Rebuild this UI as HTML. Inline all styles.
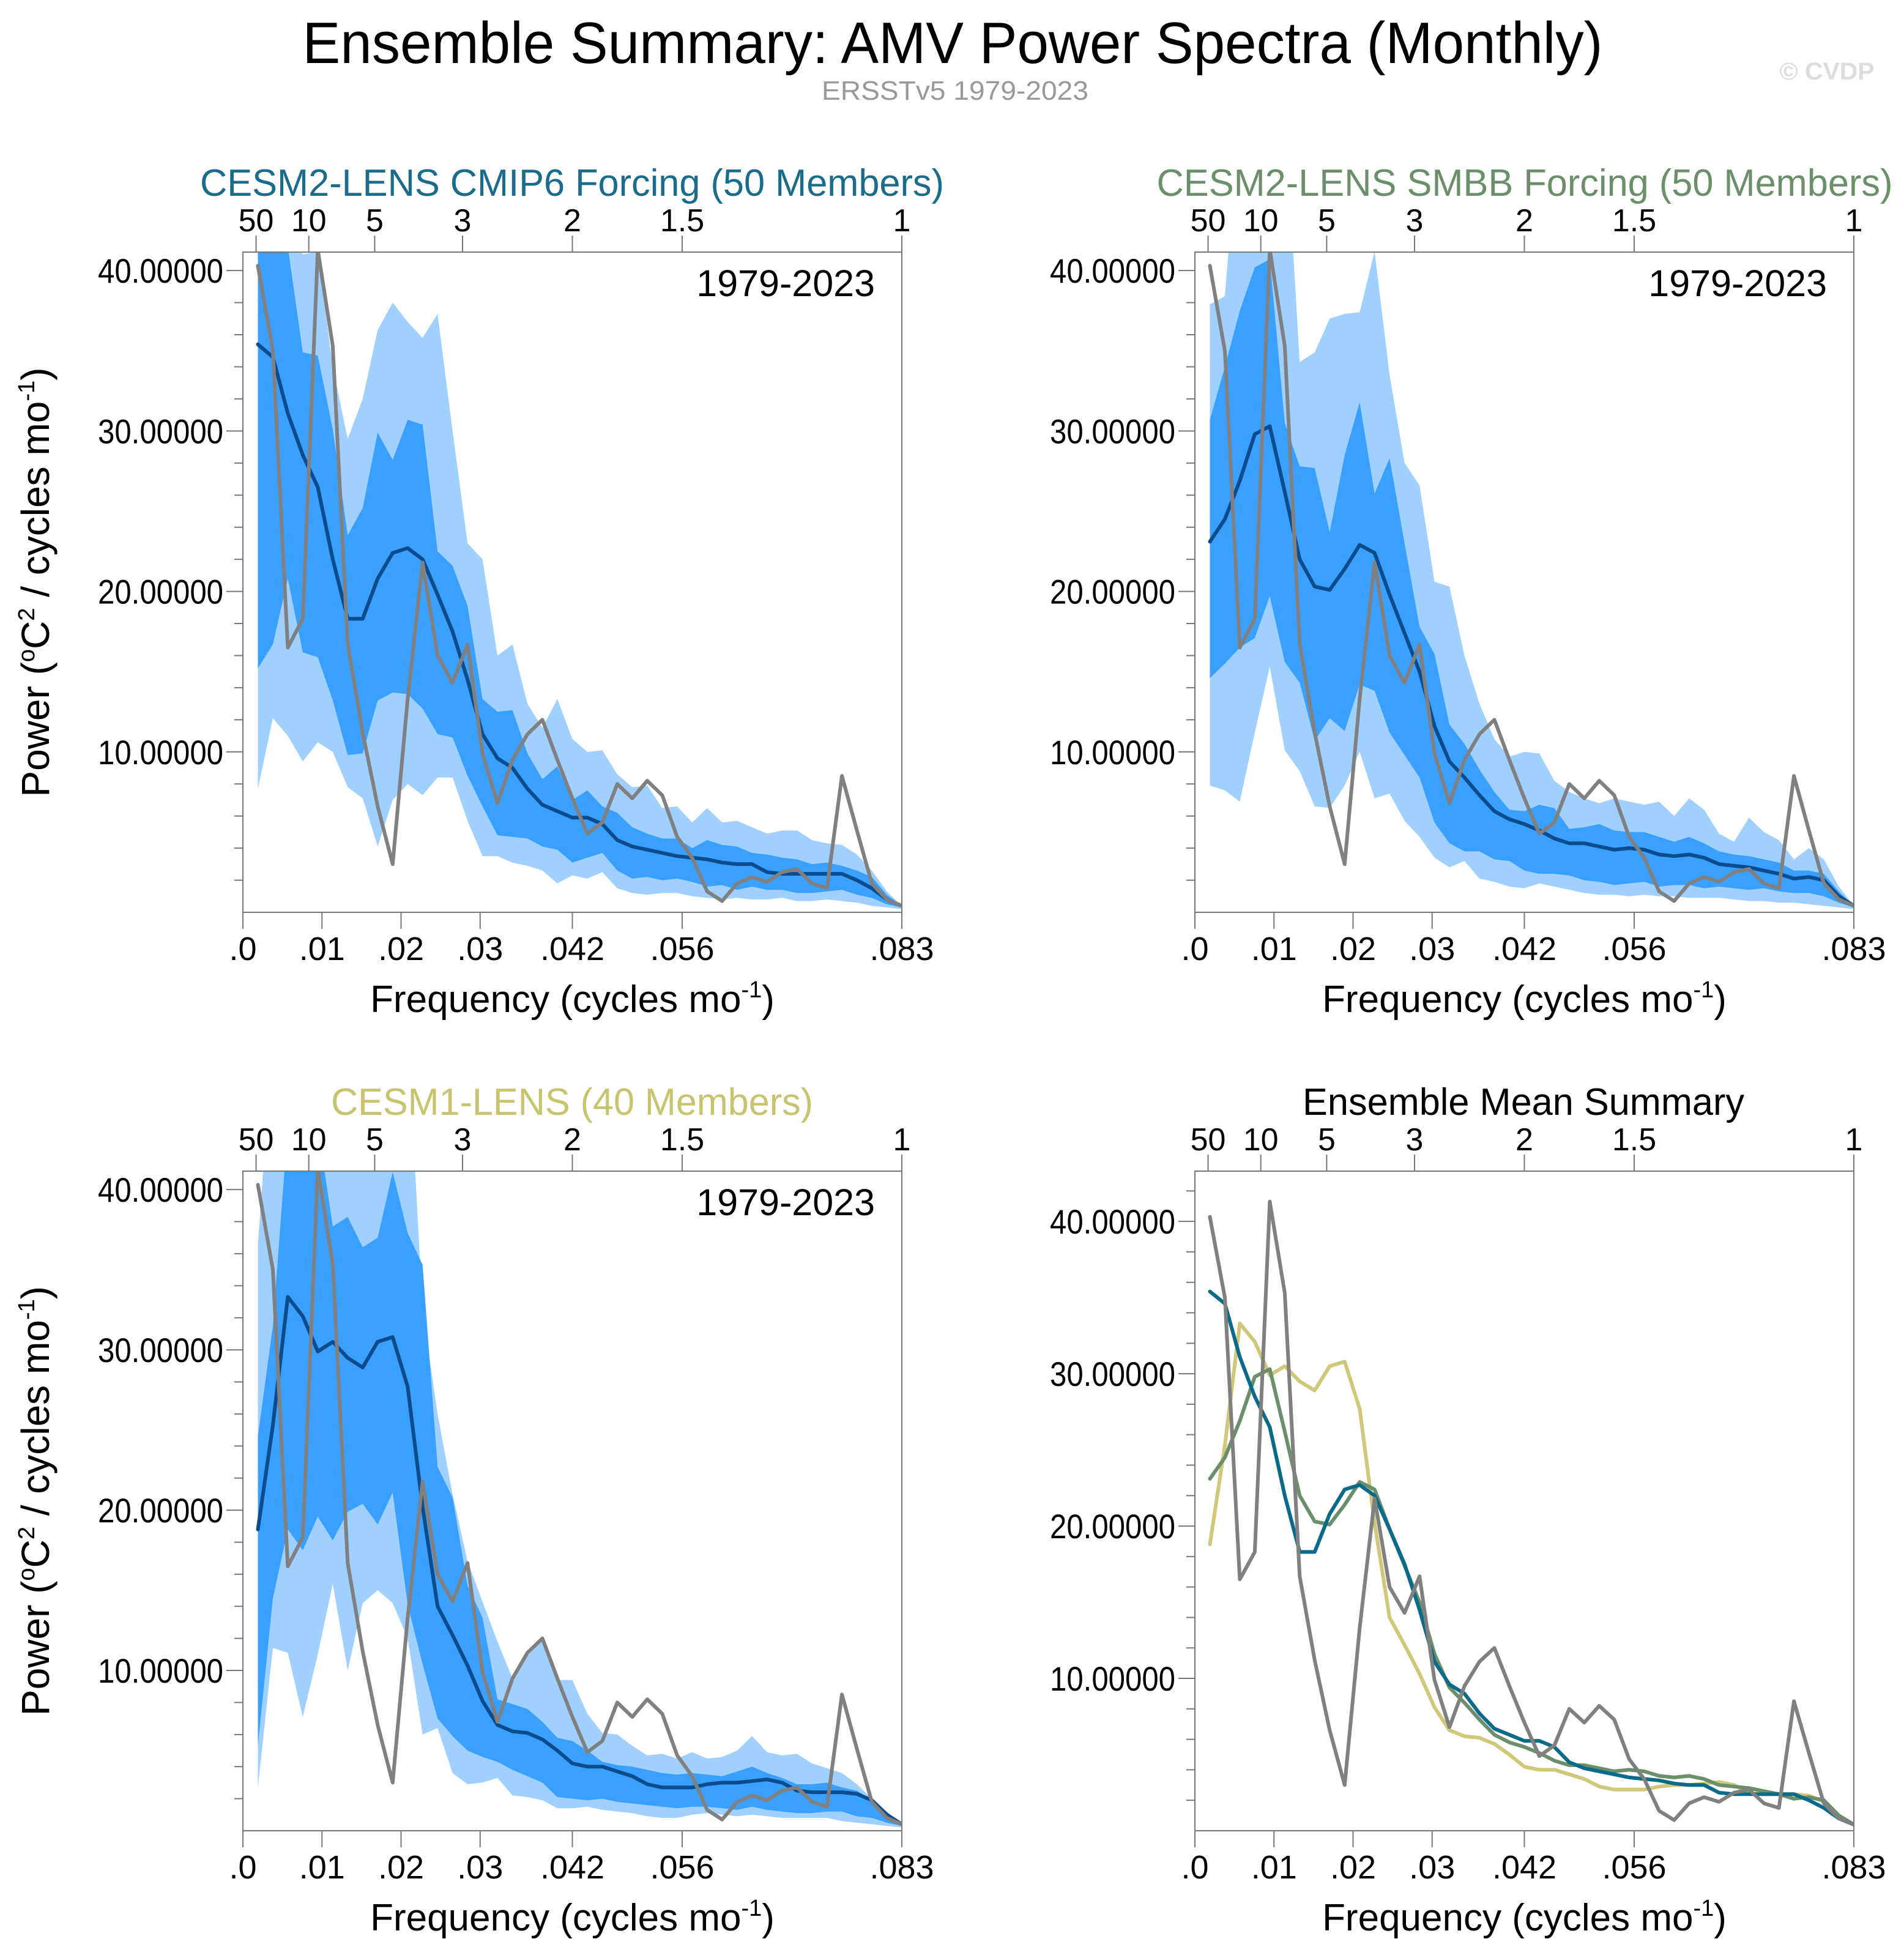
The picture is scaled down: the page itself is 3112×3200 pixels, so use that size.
<!DOCTYPE html>
<html><head><meta charset="utf-8"><title>AMV Power Spectra</title>
<style>
html,body{margin:0;padding:0;background:#fff;}
svg{display:block;font-family:"Liberation Sans",Arial,sans-serif;}
</style></head>
<body>
<svg id="chart" width="3112" height="3200" viewBox="0 0 3112 3200" xmlns="http://www.w3.org/2000/svg">
<rect x="0" y="0" width="3112" height="3200" fill="#fff"/>
<text x="1557" y="103" font-size="96" text-anchor="middle" textLength="2125" lengthAdjust="spacingAndGlyphs" fill="#000">Ensemble Summary: AMV Power Spectra (Monthly)</text>
<text x="1561" y="163" font-size="44" text-anchor="middle" textLength="436" lengthAdjust="spacingAndGlyphs" fill="#999">ERSSTv5 1979-2023</text>
<text x="2986" y="130" font-size="40" font-weight="bold" text-anchor="middle" textLength="155" lengthAdjust="spacingAndGlyphs" fill="#ddd">© CVDP</text>
</svg>
<script>
// ---------------- data ----------------
const obs = [40.3,35,16.5,18.3,41.3,35.3,16.7,11.2,6.6,3.0,13.3,21.8,16,14.3,16.7,9.9,6.8,9.5,11.1,12.0,9.5,7.1,4.9,5.6,8.0,7.1,8.2,7.3,4.7,3.4,1.3,0.7,1.8,2.2,1.9,2.5,2.7,1.8,1.5,8.5,5.1,1.8,0.8,0.4];

const cmip6Mean = [35.4,34.6,31.1,28.5,26.5,22.0,18.3,18.3,20.8,22.4,22.7,22.0,19.8,17.5,14.5,11.1,9.6,9.0,7.7,6.7,6.3,5.9,5.9,5.5,4.5,4.1,3.9,3.7,3.5,3.4,3.3,3.1,3.0,3.0,2.5,2.4,2.4,2.4,2.4,2.4,2.0,1.5,0.8,0.4];
const cmip6LightHi = [50,50,44,41,41.2,34,29.5,32,36.3,38,36.8,35.8,37.3,30,23,22,16,16.7,13,11.5,13.3,10.8,10,10.1,8.6,7.8,7.9,6.5,6.6,5.6,6.5,5.6,5.7,5.3,4.9,5.1,5.1,4.5,4.3,4.2,3.6,2.6,1.3,0.4];
const cmip6DarkHi = [44,44,41.5,34.9,34.7,30.1,23.5,25.2,29.9,28.2,30.7,30.4,22.5,21.6,19.1,13.3,12.5,12.6,9.9,8.3,9.1,7.0,7.6,6.6,6.2,5.3,4.9,4.6,4.6,4.0,4.5,4.2,4.1,3.7,3.6,3.4,3.3,3.0,3.1,2.9,2.6,2.2,1.1,0.4];
const cmip6DarkLo = [15.2,16.7,20.8,16.2,15.9,13.2,9.8,9.9,13.2,13.7,13.6,12.7,11.1,10.9,8.5,6.6,4.8,4.7,4.6,4.1,3.9,3.1,3.4,3.7,2.6,2.1,2.2,2.0,2.1,1.9,1.6,1.7,1.4,1.6,1.4,1.4,1.2,1.2,1.3,1.4,1.1,0.9,0.5,0.3];
const cmip6LightLo = [7.7,12.1,11.0,9.4,10.6,10.0,7.8,7.1,4.1,7.0,8.0,7.3,8.4,8.4,5.7,3.5,3.5,3.1,2.9,2.6,1.8,2.3,2.1,2.5,1.5,1.2,1.1,1.2,1.2,1.0,0.9,0.8,0.9,0.8,0.8,0.9,0.7,0.7,0.8,0.7,0.6,0.4,0.3,0.2];

const smbbMean = [23.1,24.5,26.9,29.8,30.3,26.2,22.0,20.3,20.1,21.4,22.9,22.4,19.8,17.4,15.0,11.6,9.4,8.4,7.3,6.3,5.8,5.5,5.1,4.6,4.3,4.3,4.1,3.9,4.0,3.9,3.6,3.5,3.6,3.4,3.0,2.9,2.8,2.6,2.4,2.1,2.2,2.0,1.0,0.4];
const smbbLightHi = [37.9,38.4,50,50,50,50,34.3,34.9,37,37.3,37.4,41.2,33.5,28,26.6,20.6,20.3,16,13,10.8,9.7,10,9.9,8.2,7.5,7.1,6.8,7.1,6.9,6.7,6.9,6.0,7.1,6.4,4.9,4.4,5.9,5.0,4.5,3.3,4.0,3.3,1.6,0.4];
const smbbDarkHi = [30.7,34,37.5,40.2,40.7,30.5,27.8,27.7,23.7,28.5,31.8,26.1,28.3,23,17.8,16.1,11.7,10.5,8.9,7.5,6.4,6.3,6.7,6.5,5.2,5.3,5.5,5.1,5.0,5.0,4.7,4.4,4.7,4.3,3.8,3.6,3.5,3.3,3.1,2.6,2.6,2.4,1.3,0.4];
const smbbDarkLo = [14.6,15.5,16.5,17.1,19.7,15.6,14.3,10.7,12.1,11.3,14.2,13.8,11.2,9.8,8.4,5.6,4.3,3.8,3.8,3.3,3.2,2.6,2.4,2.4,2.3,2.0,1.9,1.7,1.8,1.9,1.6,1.7,1.7,1.5,1.6,1.5,1.4,1.5,1.3,1.2,1.2,1.0,0.6,0.3];
const smbbLightLo = [7.9,7.6,6.9,11.2,15.3,10.1,8.8,6.6,6.5,7.9,10.0,7.1,7.4,5.7,4.7,3.4,2.8,3.2,2.1,1.9,1.6,1.5,1.8,1.6,1.4,1.2,1.1,1.1,1.0,1.1,1.0,1.0,0.9,0.9,0.9,0.8,0.7,0.7,0.6,0.6,0.5,0.4,0.3,0.2];

const cesm1Mean = [18.8,25.3,33.3,32.1,29.9,30.5,29.5,28.9,30.5,30.8,27.7,20.2,14.0,12.2,10.3,8.1,6.6,6.2,6.1,5.7,5.0,4.2,4.0,4.0,3.7,3.4,2.9,2.7,2.7,2.7,2.9,3.0,3.0,3.1,3.2,3.0,2.5,2.4,2.4,2.4,2.3,1.9,1.0,0.4];
const cesm1LightHi = [36.5,50,50,50,50,50,50,50,50,50,50,32.5,26,21,16.8,14.3,11.8,9.5,10.9,11.9,9.4,9.4,7.3,6.1,6.0,5.3,4.7,4.8,4.5,4.9,4.5,4.6,5.0,5.9,4.9,4.7,4.8,4.2,3.9,3.6,2.9,2.0,1.2,0.4];
const cesm1DarkHi = [24.6,31.5,44,44,44,37.7,38.3,36.4,37,41.1,37.3,35.3,22.7,20.8,15.3,13.3,8.2,7.9,7.6,6.8,5.8,5.6,5.0,4.3,4.1,4.0,3.8,3.6,3.5,3.6,3.5,3.4,3.7,4.0,3.6,3.3,2.9,2.9,3.0,2.7,2.5,1.9,1.1,0.4];
const cesm1DarkLo = [5.3,14.5,18.8,17.5,19.6,18.1,19.9,20.4,19.1,21.1,14.1,10.4,7.0,5.9,5.0,4.6,4.3,3.8,3.4,3.0,2.1,2.0,1.9,2.0,1.8,1.7,1.6,1.5,1.4,1.5,1.5,1.4,1.3,1.5,1.3,1.2,1.1,1.1,1.2,1.2,0.9,0.8,0.5,0.3];
const cesm1LightLo = [2.7,11.4,11.1,7.1,11.0,15.4,10.0,14.2,15.0,14.2,12.0,6.0,6.4,3.6,2.9,3.0,3.3,2.2,2.1,1.9,1.4,1.4,1.5,1.3,1.2,1.1,0.9,0.8,0.8,1.0,1.1,1.0,0.9,1.0,0.9,0.8,0.8,0.8,0.8,0.6,0.5,0.4,0.3,0.2];

const yTickValues = [10,20,30,40];
const yTickLabels = ["10.00000","20.00000","30.00000","40.00000"];
const xTickValues = [0,0.01,0.02,0.03,1/24,1/18,1/12];
const xTickLabels = [".0",".01",".02",".03",".042",".056",".083"];
const periodValues = [50,10,5,3,2,1.5,1];
const periodLabels = ["50","10","5","3","2","1.5","1"];

// ---------------- drawing ----------------
const NS = "http://www.w3.org/2000/svg";
const svg = document.getElementById("chart");
const NPTS = obs.length;
const XMAX = 1/12;
function freqOf(i){ return (i+1)/(12*NPTS); }

function mk(tag, attrs, parent){
  const el = document.createElementNS(NS, tag);
  for (const k in attrs) el.setAttribute(k, attrs[k]);
  (parent||svg).appendChild(el);
  return el;
}

let clipId = 0;
function panel(cfg){
  const g = mk("g", {});
  
  
  const x0=cfg.x0, x1=cfg.x1, y0=cfg.y0, y1=cfg.y1, ymax=cfg.ymax;
  const sx = f => x0 + f/XMAX*(x1-x0);
  const sy = v => y1 - v/ymax*(y1-y0);
  const cid = "clip"+(clipId++);
  const cp = mk("clipPath", {id:cid}, g);
  mk("rect", {x:x0, y:y0, width:x1-x0, height:y1-y0}, cp);
  const plot = mk("g", {"clip-path":"url(#"+cid+")"}, g);
  
  

  function band(hi, lo, color, nm){
    let pts = [];
    for (let i=0;i<NPTS;i++) pts.push(sx(freqOf(i)).toFixed(1)+","+sy(hi[i]).toFixed(1));
    for (let i=NPTS-1;i>=0;i--) pts.push(sx(freqOf(i)).toFixed(1)+","+sy(lo[i]).toFixed(1));
    const p = mk("polygon", {points:pts.join(" "), fill:color}, plot);
    
    
  }
  function line(vals, color, nm){
    let pts = [];
    for (let i=0;i<NPTS;i++) pts.push(sx(freqOf(i)).toFixed(1)+","+sy(vals[i]).toFixed(1));
    const p = mk("polyline", {points:pts.join(" "), fill:"none", stroke:color, "stroke-width":6, "stroke-linejoin":"round", "stroke-linecap":"round"}, plot);
    
    
  }
  if (cfg.bands){
    band(cfg.bands[0], cfg.bands[3], "#a0d0ff", "outer-spread-band");
    band(cfg.bands[1], cfg.bands[2], "#3aa0ff", "inner-spread-band");
  }
  for (const s of cfg.lines) line(s.v, s.c, s.n);

  const fr = mk("rect", {x:x0, y:y0, width:x1-x0, height:y1-y0, fill:"none", stroke:"#777", "stroke-width":2}, g);
  
  

  for (let v=2; v<ymax; v+=2){
    const major = v%10===0;
    const t = mk("line", {x1:x0-(major?27:14), x2:x0, y1:sy(v), y2:sy(v), stroke:"#777", "stroke-width":2}, g);
    
    
  }
  for (let i=0;i<yTickValues.length;i++){
    const t = mk("text", {x:x0-32, y:sy(yTickValues[i])+20, "font-size":56, "text-anchor":"end", fill:"#000", textLength:205, lengthAdjust:"spacingAndGlyphs"}, g);
    t.textContent = yTickLabels[i];
    
    
  }
  for (let i=0;i<xTickValues.length;i++){
    const x = sx(xTickValues[i]);
    const t = mk("line", {x1:x, x2:x, y1:y1, y2:y1+27, stroke:"#777", "stroke-width":2}, g);
    
    
    const l = mk("text", {x:x, y:y1+78, "font-size":54, "text-anchor":"middle", fill:"#000"}, g);
    l.textContent = xTickLabels[i];
    
    
  }
  for (let i=0;i<periodValues.length;i++){
    const x = sx(1/(12*periodValues[i]));
    const t = mk("line", {x1:x, x2:x, y1:y0, y2:y0-27, stroke:"#777", "stroke-width":2}, g);
    
    
    const l = mk("text", {x:x, y:y0-34, "font-size":52, "text-anchor":"middle", fill:"#000"}, g);
    l.textContent = periodLabels[i];
    
    
  }
  const xt = mk("text", {x:(x0+x1)/2, y:y1+163, "font-size":62, "text-anchor":"middle", fill:"#000"}, g);
  xt.innerHTML = 'Frequency (cycles mo<tspan dy="-24" font-size="38">-1</tspan><tspan dy="24">)</tspan>';
  
  
  const yc = (y0+y1)/2;
  const yt = mk("text", {x:0, y:0, "font-size":64, "text-anchor":"middle", fill:"#000", transform:"translate(80,"+yc+") rotate(-90)"}, g);
  yt.innerHTML = 'Power (<tspan dy="-24" font-size="38">o</tspan><tspan dy="24">C</tspan><tspan dy="-24" font-size="38">2</tspan><tspan dy="24"> / cycles mo</tspan><tspan dy="-24" font-size="38">-1</tspan><tspan dy="24">)</tspan>';
  
  
  const pt = mk("text", {x:cfg.tx, y:y0-92, "font-size":62, "text-anchor":"middle", fill:cfg.tc, textLength:cfg.tw, lengthAdjust:"spacingAndGlyphs"}, g);
  pt.textContent = cfg.title;
  
  
  if (cfg.period){
    const pl = mk("text", {x:x1-44, y:y0+72, "font-size":61, "text-anchor":"end", fill:"#000"}, g);
    pl.textContent = "1979-2023";
    
    
  }
}

const MEANC = "#0d4c8c", OBSC = "#808080";
panel({name:"panel-cesm2-cmip6", x0:397, x1:1474, y0:412, y1:1491, ymax:41.15,
  bands:[cmip6LightHi,cmip6DarkHi,cmip6DarkLo,cmip6LightLo],
  lines:[{v:cmip6Mean,c:MEANC,n:"ensemble-mean-line"},{v:obs,c:OBSC,n:"observed-line"}],
  title:"CESM2-LENS CMIP6 Forcing (50 Members)", tc:"#1a6c8c", tx:935, tw:1216, period:true});
panel({name:"panel-cesm2-smbb", x0:1953, x1:3030, y0:412, y1:1491, ymax:41.15,
  bands:[smbbLightHi,smbbDarkHi,smbbDarkLo,smbbLightLo],
  lines:[{v:smbbMean,c:MEANC,n:"ensemble-mean-line"},{v:obs,c:OBSC,n:"observed-line"}],
  title:"CESM2-LENS SMBB Forcing (50 Members)", tc:"#6a8f6a", tx:2492, tw:1203, period:true});
panel({name:"panel-cesm1", x0:397, x1:1474, y0:1914, y1:2992, ymax:41.15,
  bands:[cesm1LightHi,cesm1DarkHi,cesm1DarkLo,cesm1LightLo],
  lines:[{v:cesm1Mean,c:MEANC,n:"ensemble-mean-line"},{v:obs,c:OBSC,n:"observed-line"}],
  title:"CESM1-LENS (40 Members)", tc:"#c8c46e", tx:935, tw:788, period:true});
panel({name:"panel-ensemble-mean-summary", x0:1953, x1:3030, y0:1914, y1:2992, ymax:43.3,
  bands:null,
  lines:[{v:cesm1Mean,c:"#cfc878",n:"cesm1-mean-line"},{v:smbbMean,c:"#6a8f6a",n:"smbb-mean-line"},{v:cmip6Mean,c:"#0a6a8a",n:"cmip6-mean-line"},{v:obs,c:OBSC,n:"observed-line"}],
  title:"Ensemble Mean Summary", tc:"#000", tx:2490, tw:722, period:false});
</script>
</body></html>
